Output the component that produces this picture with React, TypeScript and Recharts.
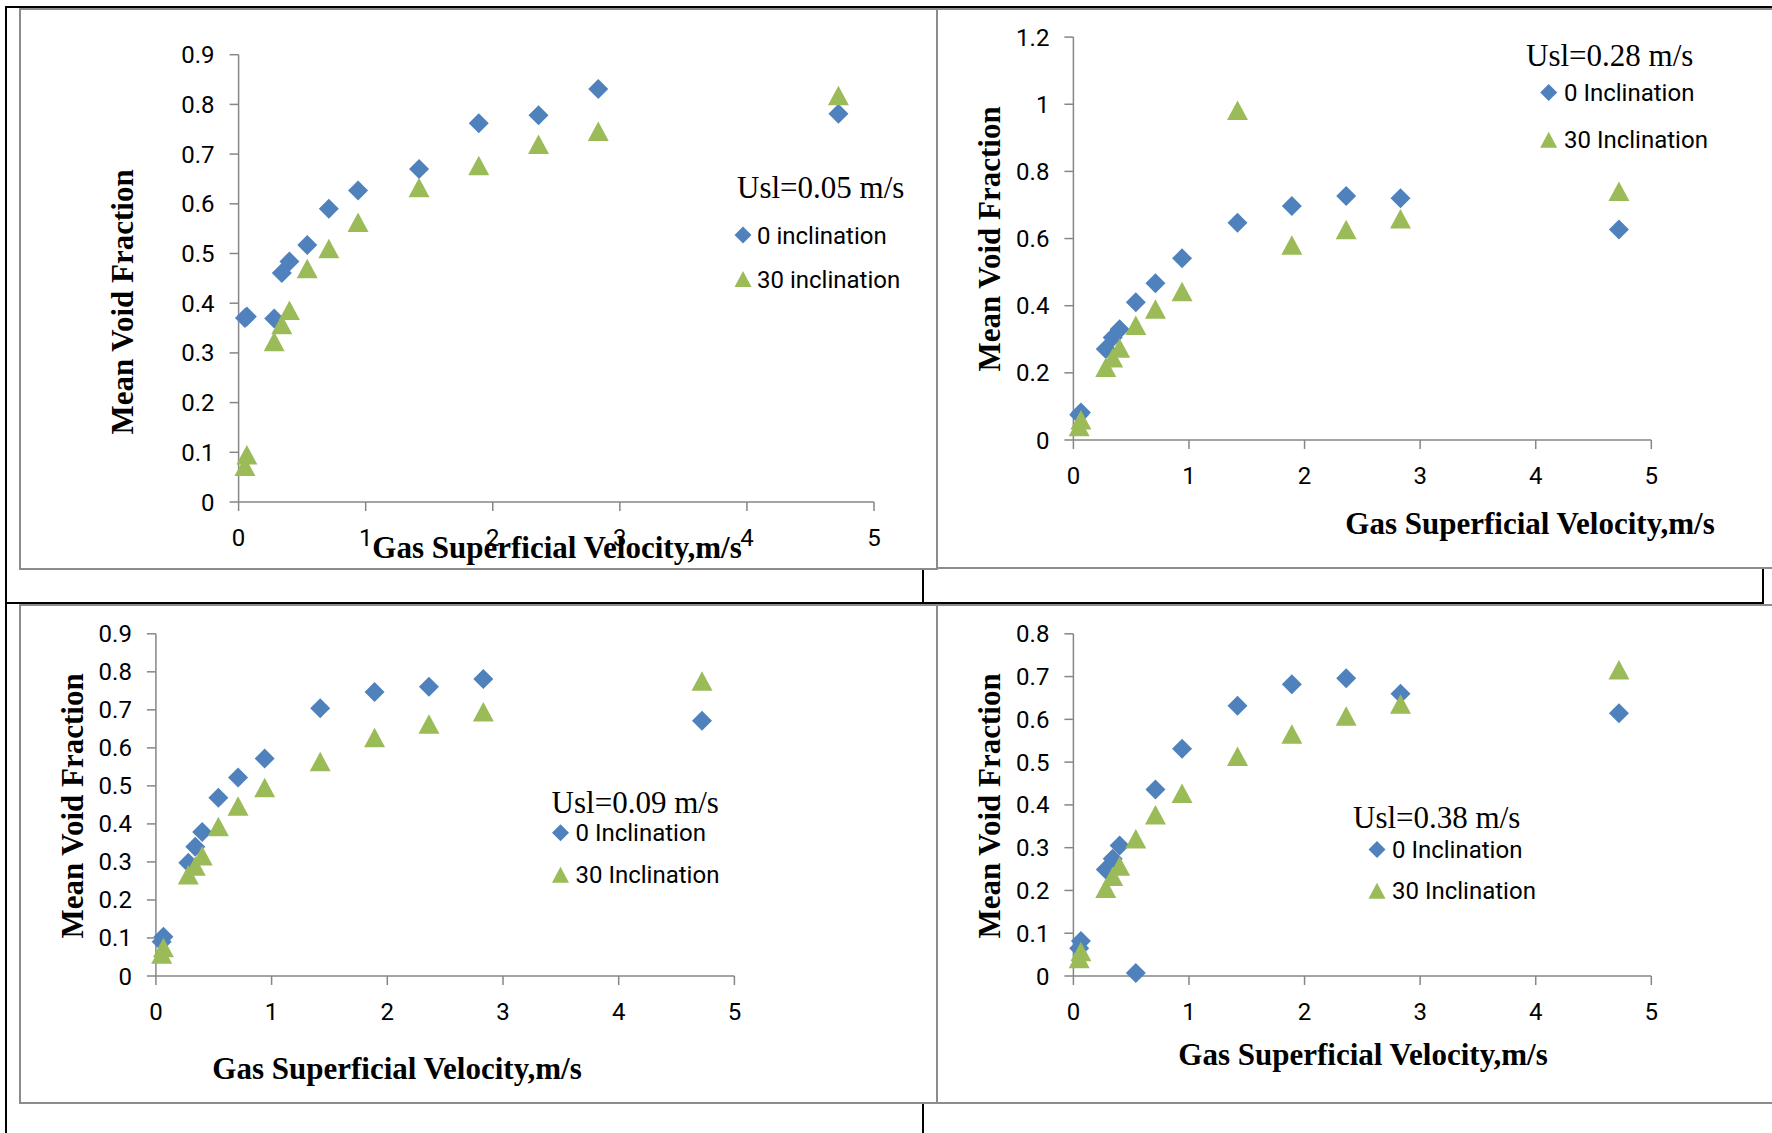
import React from 'react';
import { ScatterChart, Scatter, XAxis, YAxis, Legend } from 'recharts';

// gas superficial velocity (m/s), shared by every panel
const X_VALUES = [0.05, 0.065, 0.28, 0.34, 0.4, 0.54, 0.71, 0.94, 1.42, 1.89, 2.36, 2.83, 4.72];
const X_TICKS = [0, 1, 2, 3, 4, 5];

const Y_TICKS_09 = [0, 0.1, 0.2, 0.3, 0.4, 0.5, 0.6, 0.7, 0.8, 0.9];
const Y_TICKS_12 = [0, 0.2, 0.4, 0.6, 0.8, 1, 1.2];
const Y_TICKS_08 = [0, 0.1, 0.2, 0.3, 0.4, 0.5, 0.6, 0.7, 0.8];

// Usl = 0.05 m/s
const USL005_ZERO = [0.37, 0.373, 0.369, 0.461, 0.484, 0.517, 0.59, 0.627, 0.67, 0.762, 0.778, 0.831, 0.781];
const USL005_THIRTY = [0.072, 0.095, 0.323, 0.357, 0.386, 0.47, 0.51, 0.563, 0.633, 0.677, 0.72, 0.746, 0.818];

// Usl = 0.28 m/s
const USL028_ZERO = [0.075, 0.082, 0.271, 0.305, 0.33, 0.41, 0.467, 0.541, 0.647, 0.697, 0.727, 0.72, 0.627];
const USL028_THIRTY = [0.04, 0.06, 0.217, 0.245, 0.274, 0.342, 0.39, 0.442, 0.982, 0.581, 0.627, 0.659, 0.741];

// Usl = 0.09 m/s
const USL009_ZERO = [0.09, 0.103, 0.298, 0.34, 0.379, 0.469, 0.522, 0.572, 0.704, 0.747, 0.761, 0.781, 0.671];
const USL009_THIRTY = [0.058, 0.075, 0.266, 0.289, 0.316, 0.393, 0.447, 0.496, 0.564, 0.627, 0.663, 0.695, 0.776];

// Usl = 0.38 m/s
const USL038_ZERO = [0.065, 0.082, 0.249, 0.274, 0.305, 0.007, 0.436, 0.531, 0.632, 0.682, 0.696, 0.66, 0.614];
const USL038_THIRTY = [0.041, 0.057, 0.205, 0.233, 0.257, 0.321, 0.377, 0.427, 0.514, 0.566, 0.608, 0.636, 0.716];

const BLUE = '#4f81bd';
const GREEN = '#9bbb59';
const AXIS = '#868686';
const FRAME = '#8c8c8c';
const SERIF = '"Liberation Serif", "Times New Roman", serif';
const SANS = 'Roboto, "Liberation Sans", sans-serif';

const toPoints = (ys: number[]) => X_VALUES.map((x, i) => ({ x, y: ys[i] }));

const diamondPts = (cx: number, cy: number, r: number) =>
  `${cx},${cy - r} ${cx + r},${cy} ${cx},${cy + r} ${cx - r},${cy}`;
const trianglePts = (cx: number, cy: number, w: number, h: number) =>
  `${cx},${cy - h / 2} ${cx + w / 2},${cy + h / 2} ${cx - w / 2},${cy + h / 2}`;

const DiamondShape = (p: any) => <polygon points={diamondPts(p.cx, p.cy, 10)} fill={BLUE} />;
const TriangleShape = (p: any) => <polygon points={trianglePts(p.cx, p.cy, 21, 19.5)} fill={GREEN} />;

const AxisTitle = ({ tx, ty, rotate }: { tx: number; ty: number; rotate?: boolean }) => (
  <text
    x={tx}
    y={ty}
    dy="0.33em"
    textAnchor="middle"
    transform={rotate ? `rotate(-90, ${tx}, ${ty})` : undefined}
    fontFamily={SERIF}
    fontWeight="bold"
    fontSize={31}
    fill="#000"
  >
    {rotate ? 'Mean Void Fraction' : 'Gas Superficial Velocity,m/s'}
  </text>
);

interface LegendSpec {
  ux: number;
  uy: number;
  mx: number;
  d1: number;
  d2: number;
  tx: number;
}

const LegendBox = ({ w, h, usl, lower, spec }: { w: number; h: number; usl: string; lower: boolean; spec: LegendSpec }) => (
  <svg width={w} height={h} style={{ display: 'block', overflow: 'visible' }}>
    <text x={spec.ux} y={spec.uy} dy="0.33em" fontFamily={SERIF} fontSize={31} fill="#000">
      {`Usl=${usl} m/s`}
    </text>
    <polygon points={diamondPts(spec.mx, spec.d1, 8.5)} fill={BLUE} />
    <text x={spec.tx} y={spec.d1} dy="0.355em" fontFamily={SANS} fontSize={24} fill="#000">
      {lower ? '0 inclination' : '0 Inclination'}
    </text>
    <polygon points={trianglePts(spec.mx, spec.d2, 17, 16)} fill={GREEN} />
    <text x={spec.tx} y={spec.d2} dy="0.355em" fontFamily={SANS} fontSize={24} fill="#000">
      {lower ? '30 inclination' : '30 Inclination'}
    </text>
  </svg>
);

interface PanelProps {
  left: number;
  top: number;
  width: number;
  height: number;
  margin: { top: number; right: number; bottom: number; left: number };
  yWidth: number;
  yTicks: number[];
  zero: number[];
  thirty: number[];
  usl: string;
  lower: boolean;
  xTitle: [number, number];
  yTitle: [number, number];
  legend: LegendSpec;
}

const Panel = (p: PanelProps) => {
  const tick = { fontFamily: SANS, fontSize: 24, fill: '#000' };
  return (
    <div style={{ position: 'absolute', left: p.left, top: p.top }}>
      <ScatterChart width={p.width} height={p.height} margin={p.margin}>
        <XAxis
          type="number"
          dataKey="x"
          domain={[0, 5]}
          ticks={X_TICKS}
          height={40}
          tickSize={9}
          tickMargin={18}
          tick={tick}
          axisLine={{ stroke: AXIS, strokeWidth: 1.5 }}
          tickLine={{ stroke: AXIS, strokeWidth: 1.5 }}
          label={<AxisTitle tx={p.xTitle[0]} ty={p.xTitle[1]} />}
        />
        <YAxis
          type="number"
          dataKey="y"
          domain={[0, p.yTicks[p.yTicks.length - 1]]}
          ticks={p.yTicks}
          width={p.yWidth}
          tickSize={9}
          tickMargin={15}
          tick={tick}
          axisLine={{ stroke: AXIS, strokeWidth: 1.5 }}
          tickLine={{ stroke: AXIS, strokeWidth: 1.5 }}
          label={<AxisTitle tx={p.yTitle[0]} ty={p.yTitle[1]} rotate />}
        />
        <Scatter name="0" data={toPoints(p.zero)} shape={DiamondShape} isAnimationActive={false} />
        <Scatter name="30" data={toPoints(p.thirty)} shape={TriangleShape} isAnimationActive={false} />
        <Legend
          layout="vertical"
          align="center"
          verticalAlign="middle"
          wrapperStyle={{ position: 'absolute', left: 0, top: 0, width: p.width, height: p.height, pointerEvents: 'none' }}
          content={<LegendBox w={p.width} h={p.height} usl={p.usl} lower={p.lower} spec={p.legend} />}
        />
      </ScatterChart>
    </div>
  );
};

const line = (left: number, top: number, width: number, height: number, color: string) => (
  <div style={{ position: 'absolute', left, top, width, height, background: color }} />
);

const frame = (left: number, top: number, width: number, height: number) => (
  <div
    style={{
      position: 'absolute',
      left,
      top,
      width,
      height,
      boxSizing: 'border-box',
      border: `2px solid ${FRAME}`,
      background: '#fff',
    }}
  />
);

export default function App() {
  return (
    <div style={{ position: 'absolute', left: 0, top: 0, width: 1772, height: 1133, background: '#fff', overflow: 'hidden' }}>
      {line(5, 6, 1767, 2, '#000')}
      {line(5, 6, 2, 1127, '#000')}
      {line(922, 6, 2, 1127, '#000')}
      {line(1762, 569, 2, 35, '#000')}
      {line(5, 602, 1759, 2, '#000')}
      {frame(19, 8, 919, 562)}
      {frame(936, 8, 840, 561)}
      {frame(19, 604, 919, 500)}
      {frame(936, 604, 840, 500)}

      <Panel
        left={20}
        top={8}
        width={917}
        height={561}
        margin={{ top: 46.7, right: 63, bottom: 27, left: 0 }}
        yWidth={218.6}
        yTicks={Y_TICKS_09}
        zero={USL005_ZERO}
        thirty={USL005_THIRTY}
        usl="0.05"
        lower
        xTitle={[537, 540]}
        yTitle={[103, 294]}
        legend={{ ux: 717, uy: 179.5, mx: 723, d1: 227, d2: 271, tx: 737 }}
      />
      <Panel
        left={937}
        top={8}
        width={835}
        height={561}
        margin={{ top: 29.1, right: 120.7, bottom: 89, left: 0 }}
        yWidth={136.4}
        yTicks={Y_TICKS_12}
        zero={USL028_ZERO}
        thirty={USL028_THIRTY}
        usl="0.28"
        lower={false}
        xTitle={[593, 516]}
        yTitle={[53, 231]}
        legend={{ ux: 589, uy: 47.5, mx: 611.7, d1: 84.6, d2: 131.7, tx: 627 }}
      />
      <Panel
        left={20}
        top={605}
        width={917}
        height={498}
        margin={{ top: 28.8, right: 202.6, bottom: 87, left: 0 }}
        yWidth={135.9}
        yTicks={Y_TICKS_09}
        zero={USL009_ZERO}
        thirty={USL009_THIRTY}
        usl="0.09"
        lower={false}
        xTitle={[377, 463.6]}
        yTitle={[52.5, 201]}
        legend={{ ux: 531.6, uy: 197.6, mx: 540.5, d1: 227.8, d2: 269.7, tx: 555.5 }}
      />
      <Panel
        left={937}
        top={605}
        width={835}
        height={498}
        margin={{ top: 28.8, right: 120.7, bottom: 87, left: 0 }}
        yWidth={136.4}
        yTicks={Y_TICKS_08}
        zero={USL038_ZERO}
        thirty={USL038_THIRTY}
        usl="0.38"
        lower={false}
        xTitle={[426, 450]}
        yTitle={[53, 201]}
        legend={{ ux: 416, uy: 213, mx: 440, d1: 244.6, d2: 285.8, tx: 455 }}
      />
    </div>
  );
}
